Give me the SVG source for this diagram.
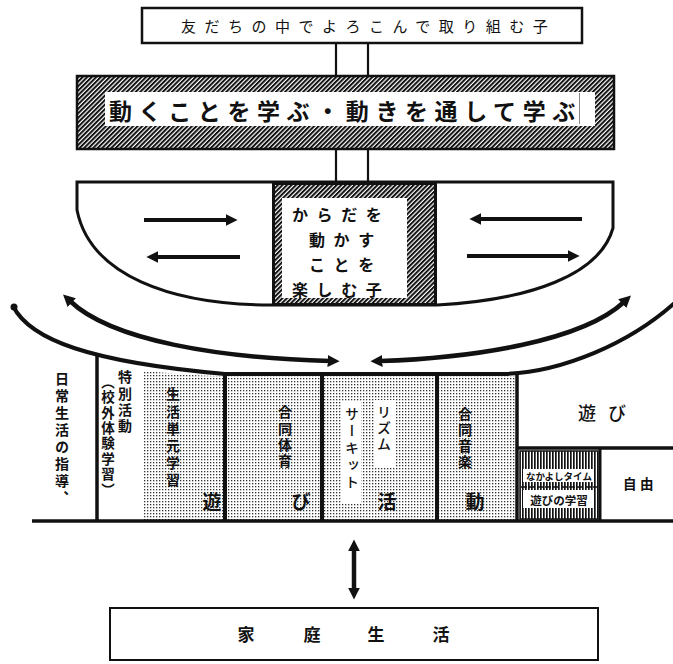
<svg xmlns="http://www.w3.org/2000/svg" width="673" height="664" viewBox="0 0 673 664">
<style>
text { font-family: "Noto Sans CJK JP", "Noto Sans CJK SC", sans-serif; fill: #111; }
.b { font-weight: 700; }
.v { writing-mode: vertical-rl; }
.ln { stroke: #111; fill: none; }
</style>
<defs>
<pattern id="hatch" width="3.2" height="3.2" patternUnits="userSpaceOnUse" patternTransform="rotate(45)">
<rect width="3.2" height="3.2" fill="#fff"/>
<rect width="2" height="3.2" fill="#111"/>
</pattern>
<pattern id="dots" width="3" height="3" patternUnits="userSpaceOnUse">
<rect width="3" height="3" fill="#fff"/>
<rect width="1.3" height="1.3" fill="#333"/>
</pattern>
<pattern id="vstripe" width="3" height="4" patternUnits="userSpaceOnUse">
<rect width="3" height="4" fill="#fff"/>
<rect width="1.7" height="4" fill="#111"/>
</pattern>
<marker id="ah" viewBox="0 0 10 10" refX="2" refY="5" markerWidth="12" markerHeight="12" markerUnits="userSpaceOnUse" orient="auto-start-reverse">
<path d="M0,0 L10,5 L0,10 z" fill="#111"/>
</marker>
</defs>

<g id="connectors" class="ln">
<line x1="336" y1="43" x2="336" y2="76" stroke-width="2.2"/>
<line x1="368" y1="43" x2="368" y2="76" stroke-width="2.2"/>
<line x1="336" y1="149" x2="336" y2="182" stroke-width="2.2"/>
<line x1="368" y1="149" x2="368" y2="182" stroke-width="2.2"/>
<path d="M70 301 C112 341 220 358 330 361" stroke-width="4.5" marker-start="url(#ah)" marker-end="url(#ah)"/>
<path d="M624 302 C582 341 474 358 380 361" stroke-width="4.5" marker-start="url(#ah)" marker-end="url(#ah)"/>
<line x1="354" y1="549" x2="354" y2="590" stroke-width="4.5" marker-start="url(#ah)" marker-end="url(#ah)"/>
</g>

<g id="node-top">
<rect x="142" y="8" width="440" height="35" fill="#fff" stroke="#111" stroke-width="2.5"/>
<text x="181" y="32" font-size="15" letter-spacing="8.5">友だちの中でよろこんで取り組む子</text>
</g>

<g id="node-learn">
<rect x="77" y="76" width="537" height="73" fill="url(#hatch)" stroke="#111" stroke-width="2.5"/>
<rect x="105" y="92" width="490" height="34" fill="#fff"/>
<text x="109" y="120" font-size="23" letter-spacing="6.6" class="b">動くことを学ぶ・動きを通して学ぶ</text>
<line x1="579.5" y1="93" x2="579.5" y2="124" stroke="#888" stroke-width="1"/>
</g>

<g id="node-bowl">
<path d="M77 182 H613 V228 C600 275 530 300 437 305 H272 C170 305 90 275 77 210 Z" fill="#fff" stroke="#111" stroke-width="3"/>
<g class="ln" stroke-width="4">
<line x1="144" y1="220" x2="228" y2="220" marker-end="url(#ah)"/>
<line x1="156" y1="257" x2="240" y2="257" marker-start="url(#ah)"/>
<line x1="479" y1="219" x2="582" y2="219" marker-start="url(#ah)"/>
<line x1="467" y1="256" x2="570" y2="256" marker-end="url(#ah)"/>
</g>
</g>

<g id="node-center">
<rect x="273.5" y="183.5" width="162" height="121" fill="url(#hatch)" stroke="#111" stroke-width="3"/>
<rect x="282" y="198" width="125" height="100" fill="#fff"/>
<text x="292" y="221" font-size="16" letter-spacing="8.6" class="b">からだを</text>
<text x="309" y="246" font-size="16" letter-spacing="8.6" class="b">動かす</text>
<text x="309" y="271" font-size="16" letter-spacing="8.6" class="b">ことを</text>
<text x="292" y="296" font-size="16" letter-spacing="8.6" class="b">楽しむ子</text>
</g>

<g id="node-columns">
<path d="M143 371 C180 374 200 376 225 376 L517 376 L517 521 L143 521 Z" fill="url(#dots)"/>
<rect x="341" y="402" width="20" height="101" fill="#fff"/>
<rect x="374" y="400" width="21" height="67" fill="#fff"/>
<path class="ln" stroke-width="4" d="M13 306 C30 340 90 362 225 374 L505 374 C560 372 630 345 680 298"/>
<circle cx="14" cy="307" r="3.5" fill="#111"/>
<g class="ln">
<line x1="97" y1="356" x2="97" y2="521" stroke-width="3.5"/>
<line x1="225" y1="374" x2="225" y2="521" stroke-width="4"/>
<line x1="322" y1="374" x2="322" y2="521" stroke-width="4"/>
<line x1="437" y1="374" x2="437" y2="521" stroke-width="4"/>
<line x1="517" y1="372" x2="517" y2="521" stroke-width="3.5"/>
<line x1="517" y1="448" x2="673" y2="448" stroke-width="3.5"/>
<line x1="600" y1="448" x2="600" y2="521" stroke-width="3"/>
<line x1="32" y1="521" x2="673" y2="521" stroke-width="3.5"/>
</g>
<text class="v b" x="62" y="372" font-size="14" letter-spacing="2.9">日常生活の指導、</text>
<text class="v b" x="125" y="370" font-size="14" letter-spacing="2.3">特別活動</text>
<text class="v b" x="108" y="375" font-size="13.5" letter-spacing="1.9">（校外体験学習）</text>
<text class="v b" x="173" y="387" font-size="14" letter-spacing="3.2">生活単元学習</text>
<text class="v b" x="285" y="405" font-size="14" letter-spacing="2.3">合同体育</text>
<text class="v" x="352" y="407" font-size="14" letter-spacing="3" font-weight="500">サーキット</text>
<text class="v" x="384" y="405" font-size="14" letter-spacing="2" font-weight="500">リズム</text>
<text class="v b" x="465" y="407" font-size="14" letter-spacing="2">合同音楽</text>
<text class="b" x="212" y="509" font-size="19" text-anchor="middle">遊</text>
<text class="b" x="301" y="509" font-size="19" text-anchor="middle">び</text>
<text class="b" x="387" y="509" font-size="19" text-anchor="middle">活</text>
<text class="b" x="475" y="509" font-size="19" text-anchor="middle">動</text>
<text x="578" y="420" font-size="18" letter-spacing="12" font-weight="500">遊び</text>
</g>

<g id="node-nakayoshi">
<rect x="520" y="451" width="78" height="68" fill="url(#vstripe)" stroke="#111" stroke-width="1.5"/>
<rect x="523" y="469" width="71" height="13" fill="#fff"/>
<rect x="523" y="490" width="71" height="18" fill="#fff"/>
<line x1="521" y1="487" x2="597" y2="487" stroke="#111" stroke-width="1.5" stroke-dasharray="6 2"/>
<text class="b" x="559" y="480" font-size="9.5" text-anchor="middle">なかよしタイム</text>
<text class="b" x="559" y="505" font-size="11.5" text-anchor="middle">遊びの学習</text>
</g>

<g id="node-jiyu">
<text class="b" x="623" y="489" font-size="13.5" letter-spacing="3.5">自由</text>
</g>

<g id="node-home">
<rect x="110" y="608" width="488" height="52" fill="#fff" stroke="#111" stroke-width="2"/>
<text class="b" x="246" y="641" font-size="17" text-anchor="middle">家</text>
<text class="b" x="312" y="641" font-size="17" text-anchor="middle">庭</text>
<text class="b" x="376" y="641" font-size="17" text-anchor="middle">生</text>
<text class="b" x="441" y="641" font-size="17" text-anchor="middle">活</text>
</g>
</svg>
